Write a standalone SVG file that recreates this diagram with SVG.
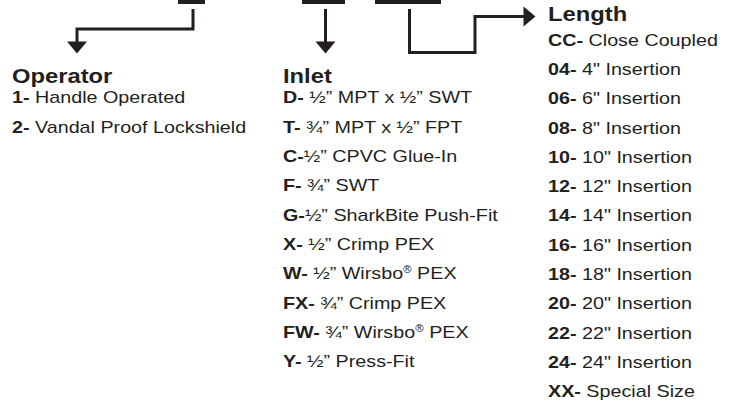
<svg xmlns="http://www.w3.org/2000/svg" width="734" height="402" viewBox="0 0 734 402">
<style>
  text { font-family: "Liberation Sans", Arial, sans-serif; fill: #231f20; }
  .h { font-size: 20.5px; font-weight: bold; }
  .i { font-size: 17px; }
  .b { font-weight: bold; }
  .sup { font-size: 10px; }
  .bar { fill: #231f20; }
  .ln { fill: none; stroke: #231f20; stroke-width: 3; stroke-linejoin: miter; marker-end: url(#ah); }
</style>
<defs>
  <marker id="ah" markerWidth="12" markerHeight="20" refX="0.5" refY="10" orient="auto" markerUnits="userSpaceOnUse" overflow="visible">
    <path d="M0,0 L12,10 L0,20 Z" fill="#231f20"/>
  </marker>
</defs>

<g id="model-bars">
  <rect class="bar" x="178" y="0" width="27" height="4"/>
  <rect class="bar" x="302" y="0" width="43" height="4"/>
  <rect class="bar" x="375" y="0" width="66" height="4"/>
</g>

<g id="connectors">
  <path class="ln" d="M193,9 V29 H77 V42"/>
  <path class="ln" d="M325.5,9 V42"/>
  <path class="ln" d="M409.5,9 V52.5 H475 V16.5 H524"/>
</g>

<g id="operator" transform="translate(12,0) scale(1.16,1)">
  <text class="h" x="0" y="83">Operator</text>
  <text class="i" x="0" y="103.5"><tspan class="b">1-</tspan> Handle Operated</text>
  <text class="i" x="0" y="132.8"><tspan class="b">2-</tspan> Vandal Proof Lockshield</text>
</g>

<g id="inlet" transform="translate(283,0) scale(1.16,1)">
  <text class="h" x="0" y="83">Inlet</text>
  <text class="i" x="0" y="103.5"><tspan class="b">D-</tspan> ½” MPT x ½” SWT</text>
  <text class="i" x="0" y="132.8"><tspan class="b">T-</tspan> ¾” MPT x ½” FPT</text>
  <text class="i" x="0" y="162.1"><tspan class="b">C-</tspan>½” CPVC Glue-In</text>
  <text class="i" x="0" y="191.4"><tspan class="b">F-</tspan> ¾” SWT</text>
  <text class="i" x="0" y="220.7"><tspan class="b">G-</tspan>½” SharkBite Push-Fit</text>
  <text class="i" x="0" y="250"><tspan class="b">X-</tspan> ½” Crimp PEX</text>
  <text class="i" x="0" y="279.3"><tspan class="b">W-</tspan> ½” Wirsbo<tspan class="sup" dy="-6">®</tspan><tspan dy="6"> PEX</tspan></text>
  <text class="i" x="0" y="308.6"><tspan class="b">FX-</tspan> ¾” Crimp PEX</text>
  <text class="i" x="0" y="337.9"><tspan class="b">FW-</tspan> ¾” Wirsbo<tspan class="sup" dy="-6">®</tspan><tspan dy="6"> PEX</tspan></text>
  <text class="i" x="0" y="367.2"><tspan class="b">Y-</tspan> ½” Press-Fit</text>
</g>

<g id="length" transform="translate(548,0) scale(1.16,1)">
  <text class="h" x="0" y="21.5">Length</text>
  <text class="i" x="0" y="45.7"><tspan class="b">CC-</tspan> Close Coupled</text>
  <text class="i" x="0" y="75"><tspan class="b">04-</tspan> 4" Insertion</text>
  <text class="i" x="0" y="104.3"><tspan class="b">06-</tspan> 6" Insertion</text>
  <text class="i" x="0" y="133.6"><tspan class="b">08-</tspan> 8" Insertion</text>
  <text class="i" x="0" y="162.9"><tspan class="b">10-</tspan> 10" Insertion</text>
  <text class="i" x="0" y="192.2"><tspan class="b">12-</tspan> 12" Insertion</text>
  <text class="i" x="0" y="221.5"><tspan class="b">14-</tspan> 14" Insertion</text>
  <text class="i" x="0" y="250.8"><tspan class="b">16-</tspan> 16" Insertion</text>
  <text class="i" x="0" y="280.1"><tspan class="b">18-</tspan> 18" Insertion</text>
  <text class="i" x="0" y="309.4"><tspan class="b">20-</tspan> 20" Insertion</text>
  <text class="i" x="0" y="338.7"><tspan class="b">22-</tspan> 22" Insertion</text>
  <text class="i" x="0" y="368"><tspan class="b">24-</tspan> 24" Insertion</text>
  <text class="i" x="0" y="397.3"><tspan class="b">XX-</tspan> Special Size</text>
</g>
</svg>
